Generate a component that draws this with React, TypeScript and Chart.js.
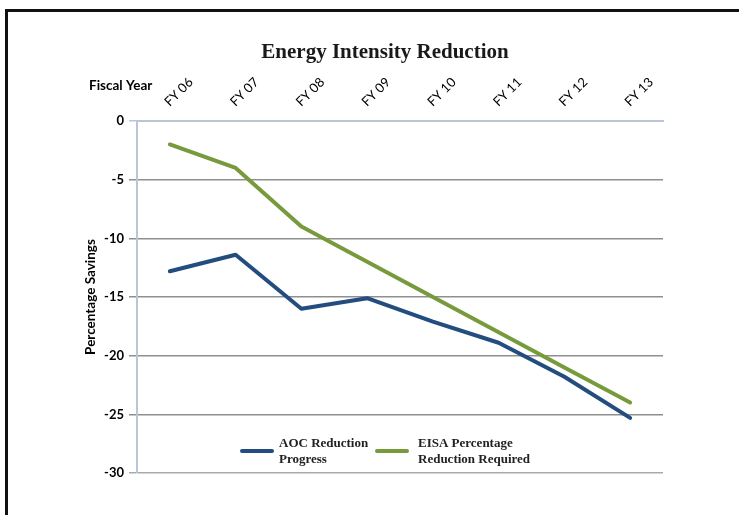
import React, { useEffect, useRef } from "react";
import { Chart, registerables } from "chart.js";
Chart.register(...registerables);

const categories = ["FY 06", "FY 07", "FY 08", "FY 09", "FY 10", "FY 11", "FY 12", "FY 13"];
const aocValues = [-12.8, -11.4, -16.0, -15.1, -17.1, -18.9, -21.8, -25.3];
const eisaValues = [-2, -4, -9, -12, -15, -18, -21, -24];
const seriesNames = ["AOC Reduction Progress", "EISA Percentage Reduction Required"];
const legendLines = [["AOC Reduction", "Progress"], ["EISA Percentage", "Reduction Required"]];
const seriesColors = ["#234C7F", "#779A3C"];
const chartTitle = "Energy Intensity Reduction";
const xAxisTitle = "Fiscal Year";
const yAxisTitle = "Percentage Savings";
const yMin = -30;
const yMax = 0;
const yStep = 5;

const sans = "Lato, 'Liberation Sans', sans-serif";
const serif = "'Liberation Serif', 'DejaVu Serif', serif";

const extrasPlugin = {
  id: "extras",
  afterDraw(chart: any) {
    const { ctx, chartArea } = chart;
    const ca = chartArea;
    ctx.save();
    // Title
    ctx.fillStyle = "#1a1a1a";
    ctx.font = `bold 21px ${serif}`;
    ctx.textAlign = "center";
    ctx.textBaseline = "middle";
    ctx.fillText(chartTitle, 385, 53);
    // Fiscal Year
    ctx.font = `bold 13.5px ${sans}`;
    ctx.textAlign = "left";
    ctx.fillStyle = "#000";
    ctx.fillText(xAxisTitle, 89, 86);
    // Y title
    ctx.save();
    ctx.translate(91, (ca.top + ca.bottom) / 2);
    ctx.rotate(-Math.PI / 2);
    ctx.textAlign = "center";
    ctx.fillText(yAxisTitle, 0, 0);
    ctx.restore();
    // X category labels (rotated)
    const xs = chart.scales.x;
    ctx.font = `13px ${sans}`;
    ctx.fillStyle = "#000";
    categories.forEach((c, i) => {
      const px = xs.getPixelForValue(i);
      ctx.save();
      ctx.translate(px - 3, ca.top - 17);
      ctx.rotate(-Math.PI / 4);
      ctx.textAlign = "left";
      ctx.textBaseline = "middle";
      ctx.fillText(c, 0, 0);
      ctx.restore();
    });
    // Legend
    const items = [
      { x: ca.left + 105, tx: ca.left + 142 },
      { x: ca.left + 240, tx: ca.left + 281 },
    ];
    const ly = ca.bottom - 22;
    items.forEach((it, i) => {
      ctx.strokeStyle = seriesColors[i];
      ctx.lineWidth = 4;
      ctx.lineCap = "round";
      ctx.beginPath();
      ctx.moveTo(it.x, ly);
      ctx.lineTo(it.x + 30, ly);
      ctx.stroke();
      ctx.fillStyle = "#222";
      ctx.font = `bold 13px ${serif}`;
      ctx.textAlign = "left";
      ctx.textBaseline = "middle";
      legendLines[i].forEach((line, j) => {
        ctx.fillText(line, it.tx, ly - 7 + j * 16);
      });
    });
    ctx.restore();
  },
};

export default function App() {
  const ref = useRef<HTMLCanvasElement>(null);
  useEffect(() => {
    if (!ref.current) return;
    const chart = new Chart(ref.current, {
      type: "line",
      data: {
        labels: categories,
        datasets: [
          {
            label: seriesNames[0],
            data: aocValues,
            borderColor: seriesColors[0],
            backgroundColor: seriesColors[0],
            borderWidth: 4,
            pointRadius: 0,
            borderCapStyle: "round",
            borderJoinStyle: "round",
            tension: 0,
          },
          {
            label: seriesNames[1],
            data: eisaValues,
            borderColor: seriesColors[1],
            backgroundColor: seriesColors[1],
            borderWidth: 4,
            pointRadius: 0,
            borderCapStyle: "round",
            borderJoinStyle: "round",
            tension: 0,
          },
        ],
      },
      options: {
        animation: false,
        responsive: false,
        maintainAspectRatio: false,
        layout: { padding: { left: 0, right: 76, top: 61, bottom: 42 } },
        plugins: {
          legend: { display: false },
          title: { display: false },
          tooltip: { enabled: false },
        },
        scales: {
          x: {
            position: "top",
            offset: true,
            grid: { display: false, drawTicks: false },
            border: { display: true, color: "#B9C6D6", width: 2 },
            ticks: { display: false },
            afterFit: (s: any) => {
              s.height = 60;
            },
          },
          y: {
            min: yMin,
            max: yMax,
            grid: {
              color: (c: any) => (c.tick && c.tick.value === 0 ? "#B9C6D6" : c.tick && c.tick.value === yMin ? "#AAAAAA" : "#8F8F8F"),
              lineWidth: 1.5,
              tickLength: 8,
            },
            border: { display: true, color: "#B9C6D6", width: 2 },
            ticks: {
              stepSize: yStep,
              padding: 5,
              color: "#000",
              font: { family: sans, size: 13, weight: "bold" },
            },
            afterFit: (s: any) => {
              s.width = 137;
            },
          },
        },
      },
      plugins: [extrasPlugin],
    });
    return () => chart.destroy();
  }, []);
  return (
    <div style={{ position: "fixed", left: 0, top: 0, width: 739, height: 515, background: "#fff", overflow: "hidden" }}>
      <div
        style={{
          position: "absolute",
          left: 5,
          top: 9,
          width: 800,
          height: 600,
          borderLeft: "3px solid #111",
          borderTop: "3px solid #111",
        }}
      />
      <canvas ref={ref} width={739} height={515} style={{ position: "absolute", left: 0, top: 0, width: 739, height: 515 }} />
    </div>
  );
}
